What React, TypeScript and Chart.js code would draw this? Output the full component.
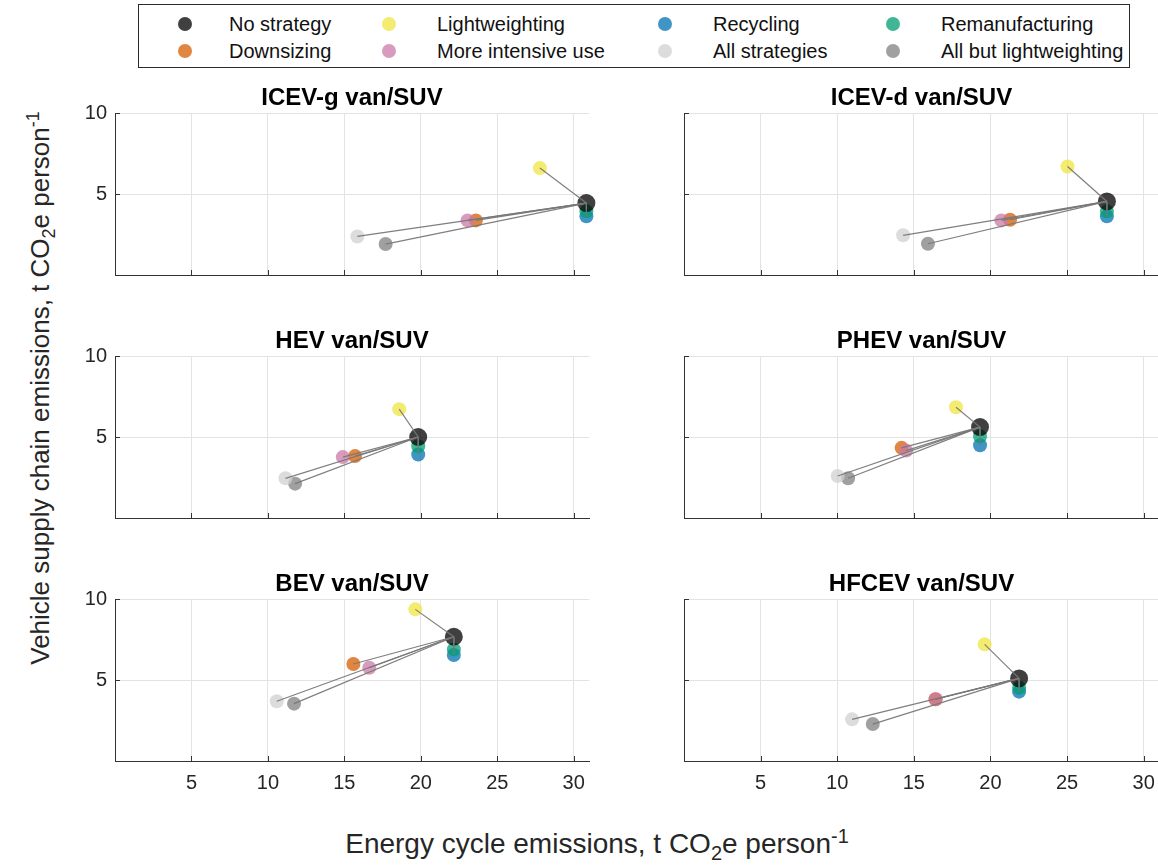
import React, { useEffect, useRef } from "react";
import { Chart, registerables } from "chart.js";

Chart.register(...registerables);

// ---------- data ----------
const panelTitles = [
  "ICEV-g van/SUV",
  "ICEV-d van/SUV",
  "HEV van/SUV",
  "PHEV van/SUV",
  "BEV van/SUV",
  "HFCEV van/SUV",
];

const xTickValues = [5, 10, 15, 20, 25, 30];
const yTickValues = [5, 10];
const xRange = [0, 31];
const yRange = [0, 10];

// energy cycle emissions (x) and vehicle supply chain emissions (y), one value per panel
const noStrategyX = [30.83, 27.6, 19.83, 19.32, 22.16, 21.87];
const noStrategyY = [4.44, 4.54, 5.0, 5.61, 7.67, 5.1];
const downsizingX = [23.6, 21.28, 15.7, 14.2, 15.59, 16.42];
const downsizingY = [3.37, 3.41, 3.82, 4.33, 5.99, 3.81];
const lightweightingX = [27.79, 25.03, 18.59, 17.75, 19.64, 19.62];
const lightweightingY = [6.6, 6.7, 6.72, 6.84, 9.36, 7.2];
const intensiveUseX = [23.06, 20.71, 14.9, 14.5, 16.63, 16.42];
const intensiveUseY = [3.37, 3.37, 3.76, 4.16, 5.76, 3.81];
const recyclingX = [30.83, 27.6, 19.83, 19.32, 22.16, 21.87];
const recyclingY = [3.62, 3.62, 3.92, 4.49, 6.54, 4.28];
const allStrategiesX = [15.85, 14.3, 11.15, 10.03, 10.58, 10.97];
const allStrategiesY = [2.38, 2.45, 2.45, 2.59, 3.69, 2.57];
const remanufacturingX = [30.83, 27.6, 19.83, 19.32, 22.16, 21.87];
const remanufacturingY = [3.93, 3.93, 4.43, 5.04, 6.89, 4.52];
const allButLightX = [17.7, 15.92, 11.78, 10.71, 11.71, 12.32];
const allButLightY = [1.91, 1.93, 2.12, 2.45, 3.54, 2.28];

// legend order (column-major, 2 rows)
const strategyNames = [
  "No strategy",
  "Downsizing",
  "Lightweighting",
  "More intensive use",
  "Recycling",
  "All strategies",
  "Remanufacturing",
  "All but lightweighting",
];

// ---------- styling ----------
const FONT = "'Liberation Sans', Arial, Helvetica, sans-serif";
const strategyColors = [
  "rgba(0,0,0,0.75)",
  "rgba(213,94,0,0.75)",
  "rgba(240,228,66,0.75)",
  "rgba(204,121,167,0.75)",
  "rgba(0,114,178,0.75)",
  "rgba(208,208,208,0.75)",
  "rgba(0,158,115,0.75)",
  "rgba(128,128,128,0.75)",
];
const strategyX = [
  noStrategyX,
  downsizingX,
  lightweightingX,
  intensiveUseX,
  recyclingX,
  allStrategiesX,
  remanufacturingX,
  allButLightX,
];
const strategyY = [
  noStrategyY,
  downsizingY,
  lightweightingY,
  intensiveUseY,
  recyclingY,
  allStrategiesY,
  remanufacturingY,
  allButLightY,
];
// draw order (0 = top-most)
const strategyOrder = [1, 3, 4, 2, 6, 7, 5, 8];
const strategyRadius = [9, 7, 7, 7, 7, 7, 7, 7];

const PLOT_W = 474;
const PLOT_H = 162;
const Y_AXIS_W = 45;
const TITLE_H = 45;
const X_AXIS_H = 45;
const colLeft = [115, 684];
const colRightMargin = [9, 10];
const rowTop = [113, 356, 599];

const inwardTicks = {
  id: "inwardTicks",
  beforeDatasetsDraw(chart: any) {
    const { ctx, chartArea, scales } = chart;
    ctx.save();
    ctx.strokeStyle = "#333333";
    ctx.lineWidth = 1;
    ctx.beginPath();
    xTickValues.forEach((v) => {
      const px = Math.round(scales.x.getPixelForValue(v)) + 0.5;
      ctx.moveTo(px, chartArea.bottom);
      ctx.lineTo(px, chartArea.bottom - 5);
    });
    yTickValues.forEach((v) => {
      const py = Math.round(scales.y.getPixelForValue(v)) + 0.5;
      ctx.moveTo(chartArea.left, py);
      ctx.lineTo(chartArea.left + 5, py);
    });
    ctx.stroke();
    ctx.restore();
  },
};

function makeConfig(i: number, showY: boolean, showX: boolean): any {
  const lines = strategyNames.slice(1).map((name, k) => {
    const s = k + 1;
    return {
      type: "scatter",
      label: name + " link",
      data: [
        { x: noStrategyX[i], y: noStrategyY[i] },
        { x: strategyX[s][i], y: strategyY[s][i] },
      ],
      showLine: true,
      borderColor: "rgba(120,120,120,0.95)",
      borderWidth: 1.2,
      pointRadius: 0,
      clip: false,
      order: 0,
    };
  });
  const points = strategyNames.map((name, s) => ({
    type: "scatter",
    label: name,
    data: [{ x: strategyX[s][i], y: strategyY[s][i] }],
    backgroundColor: strategyColors[s],
    borderWidth: 0,
    pointRadius: strategyRadius[s],
    pointHoverRadius: strategyRadius[s],
    clip: false,
    order: strategyOrder[s],
  }));
  const tickFont = { family: FONT, size: 20 };
  return {
    type: "scatter",
    data: { datasets: [...lines, ...points] },
    options: {
      animation: false,
      responsive: false,
      maintainAspectRatio: false,
      devicePixelRatio: 1,
      events: [],
      layout: { padding: 0 },
      plugins: {
        legend: { display: false },
        tooltip: { enabled: false },
        title: {
          display: true,
          text: panelTitles[i],
          fullSize: false,
          color: "#000000",
          font: { family: FONT, size: 24, weight: "bold", lineHeight: 1.2 },
          padding: { top: 15.6, bottom: 0.6 },
        },
      },
      scales: {
        x: {
          type: "linear",
          min: xRange[0],
          max: xRange[1],
          afterBuildTicks: (s: any) => {
            s.ticks = xTickValues.map((v) => ({ value: v }));
          },
          afterFit: (s: any) => {
            s.height = X_AXIS_H;
          },
          grid: { color: "#e3e3e3", lineWidth: 1, drawTicks: false },
          border: { display: true, color: "#333333", width: 1 },
          ticks: {
            display: showX,
            padding: 10,
            font: tickFont,
            color: "#262626",
            maxRotation: 0,
            autoSkip: false,
          },
        },
        y: {
          type: "linear",
          min: yRange[0],
          max: yRange[1],
          afterBuildTicks: (s: any) => {
            s.ticks = yTickValues.map((v) => ({ value: v }));
          },
          afterFit: (s: any) => {
            s.width = Y_AXIS_W;
          },
          grid: { color: "#e3e3e3", lineWidth: 1, drawTicks: false },
          border: { display: true, color: "#333333", width: 1 },
          ticks: {
            display: showY,
            padding: 8,
            font: tickFont,
            color: "#262626",
            autoSkip: false,
          },
        },
      },
    },
    plugins: [inwardTicks],
  };
}

const legendMarkerX = [185, 389, 665, 893];
const legendTextX = [229, 437, 713, 941];
const legendRowY = [24, 51];

export default function App() {
  const refs = useRef<(HTMLCanvasElement | null)[]>([]);

  useEffect(() => {
    const charts = panelTitles.map((_, i) => {
      const col = i % 2;
      const row = Math.floor(i / 2);
      const canvas = refs.current[i] as HTMLCanvasElement;
      return new Chart(canvas, makeConfig(i, col === 0, row === 2));
    });
    return () => charts.forEach((c) => c.destroy());
  }, []);

  return (
    <div
      style={{
        position: "absolute",
        left: 0,
        top: 0,
        width: 1158,
        height: 866,
        overflow: "hidden",
        background: "#ffffff",
        fontFamily: FONT,
      }}
    >
      {panelTitles.map((t, i) => {
        const col = i % 2;
        const row = Math.floor(i / 2);
        const w = Y_AXIS_W + PLOT_W + colRightMargin[col];
        const h = TITLE_H + PLOT_H + X_AXIS_H;
        return (
          <canvas
            key={t}
            ref={(el) => {
              refs.current[i] = el;
            }}
            width={w}
            height={h}
            style={{
              position: "absolute",
              left: colLeft[col] - Y_AXIS_W,
              top: rowTop[row] - TITLE_H,
              width: w,
              height: h,
            }}
          />
        );
      })}

      {/* legend */}
      <div
        style={{
          position: "absolute",
          left: 138,
          top: 4,
          width: 990,
          height: 62,
          border: "1px solid #2b2b2b",
          background: "#ffffff",
        }}
      />
      {strategyNames.map((name, s) => {
        const c = Math.floor(s / 2);
        const r = s % 2;
        return (
          <React.Fragment key={name}>
            <div
              style={{
                position: "absolute",
                left: legendMarkerX[c] - 7,
                top: legendRowY[r] - 7,
                width: 14,
                height: 14,
                borderRadius: "50%",
                background: strategyColors[s],
              }}
            />
            <div
              style={{
                position: "absolute",
                left: legendTextX[c],
                top: legendRowY[r] - 12,
                height: 24,
                lineHeight: "24px",
                fontSize: 20,
                color: "#111111",
                whiteSpace: "nowrap",
              }}
            >
              {name}
            </div>
          </React.Fragment>
        );
      })}

      {/* x axis title */}
      <div
        style={{
          position: "absolute",
          left: 0,
          width: 1194,
          top: 820,
          textAlign: "center",
          fontSize: 28,
          lineHeight: "32px",
          color: "#262626",
          whiteSpace: "nowrap",
        }}
      >
        Energy cycle emissions, t CO<sub style={{ fontSize: 20 }}>2</sub>e person
        <sup style={{ fontSize: 20 }}>-1</sup>
      </div>

      {/* y axis title */}
      <div
        style={{
          position: "absolute",
          left: 41,
          top: 388,
          transform: "translate(-50%, -50%) rotate(-90deg)",
          fontSize: 26,
          lineHeight: "32px",
          color: "#262626",
          whiteSpace: "nowrap",
        }}
      >
        Vehicle supply chain emissions, t CO<sub style={{ fontSize: 18 }}>2</sub>e person
        <sup style={{ fontSize: 18 }}>-1</sup>
      </div>
    </div>
  );
}
